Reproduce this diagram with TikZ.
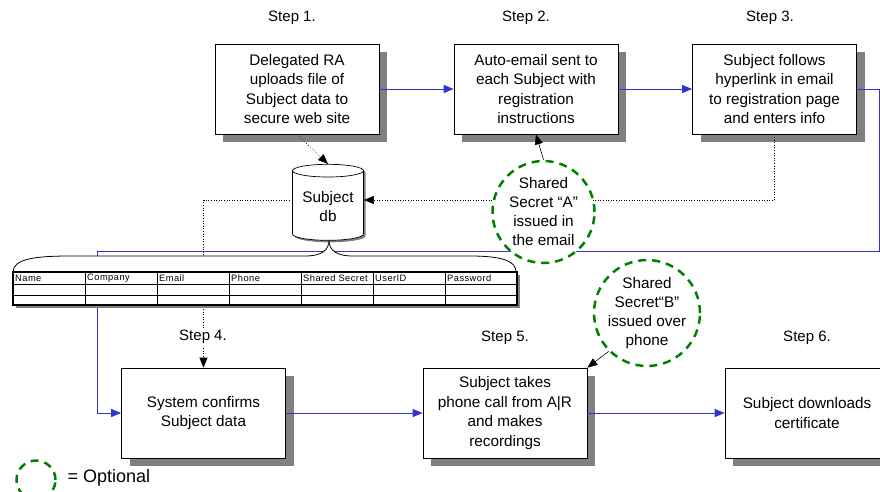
\documentclass[tikz,border=0pt]{standalone}
\usepackage{fontspec}
\setmainfont{Liberation Sans}
\usetikzlibrary{shapes.geometric,shadows,arrows.meta}

\definecolor{flowblue}{RGB}{51,51,214}
\definecolor{optgreen}{RGB}{0,128,0}
\definecolor{shadowgray}{RGB}{128,128,128}

\begin{document}
\begin{tikzpicture}[x=1pt,y=-1pt,
    procbox/.style={draw,fill=white,line width=0.7pt,minimum width=164pt,minimum height=90pt,
        align=center,font=\fontsize{15.3}{19.4}\selectfont,
        drop shadow={shadow xshift=8pt,shadow yshift=-8pt,fill=shadowgray,opacity=1}},
    steplabel/.style={font=\fontsize{15}{18}\selectfont},
    flow/.style={draw=flowblue,line width=1pt,-{Triangle[length=10pt,width=8pt]}},
    dotlink/.style={dotted,line width=0.6pt,-{Triangle[length=10pt,width=8pt]}},
    notelink/.style={line width=0.6pt,-{Triangle[length=10pt,width=8pt]}},
    secret/.style={circle,draw=optgreen,fill=white,line width=2.5pt,
        dash pattern=on 8pt off 6pt,minimum size=102pt,inner sep=0pt,
        align=center,font=\fontsize{15.3}{19}\selectfont},
    colhead/.style={anchor=west,inner sep=1pt,
        font=\fontsize{9.3}{10}\selectfont\addfontfeatures{LetterSpace=5}}
  ]
    \useasboundingbox (0,0) rectangle (880,491);
    \clip (0,0) rectangle (880,491);

    % process steps
    \node[procbox] (upload) at (297,89)
        {Delegated RA\\uploads file of\\Subject data to\\secure web site};
    \node[procbox] (email) at (536,89)
        {Auto-email sent to\\each Subject with\\registration\\instructions};
    \node[procbox] (follow) at (774.5,89)
        {Subject follows\\hyperlink in email\\to registration page\\and enters info};
    \node[procbox] (confirm) at (203.5,413) {System confirms\\Subject data};
    \node[procbox] (phone) at (505,413)
        {Subject takes\\phone call from A|R\\and makes\\recordings};
    \node[procbox] (download) at (807,413) {Subject downloads\\certificate};

    % database
    \node[cylinder,shape border rotate=90,aspect=0.22,draw,fill=white,line width=0.7pt,
        minimum height=76pt,minimum width=71pt,align=center,
        font=\fontsize{15.3}{19}\selectfont,
        drop shadow={shadow xshift=2pt,shadow yshift=-2pt,fill=shadowgray,opacity=1}]
        (db) at (328,207) {Subject\\db};
    \coordinate (dbE) at ([yshift=7pt]db.east);
    \coordinate (dbW) at ([yshift=7pt]db.west);

    \coordinate (loopE) at (879,251);
    \coordinate (loopW) at (97,251);

    % main flow
    \draw[flow] (upload) -- (email);
    \draw[flow] (email) -- (follow);
    \draw[flow] (follow.east) -| (loopE) -- (loopW) |- (confirm.west);
    \draw[flow] (confirm) -- (phone);
    \draw[flow] (phone) -- (download);

    % data links
    \draw[dotlink] (upload.south) -- (db.north);
    \draw[dotlink] (follow.south) |- (dbE);
    \draw[dotlink] (dbW) -| (confirm.north);

    % brace onto the record table
    \draw[fill=white,line width=0.8pt] (13,272)
        .. controls (13,259) and (35,256) .. (70,256) -- (305,256)
        .. controls (322,256) and (329,250) .. (329,240)
        .. controls (329,250) and (336,256) .. (353,256) -- (470,256)
        .. controls (505,256) and (516,262) .. (516,272) -- cycle;

    % record table
    \fill[shadowgray] (16,275) rectangle (520,308);
    \draw[fill=white,line width=1.2pt] (13,272) rectangle (517,305);
    \draw[line width=0.6pt] (13,284) -- (517,284) (13,295) -- (517,295);
    \foreach \i in {1,...,6}
        \draw[line width=0.8pt] ({13+72*\i},272) -- ({13+72*\i},305);
    \foreach \name [count=\i from 0] in {Name,Company,Email,Phone,Shared Secret,UserID,Password}
        \node[colhead] (col\i) at ({14+72*\i},278.5) {\name};

    % optional shared secrets
    \node[secret] (secretA) at (543.5,212) {Shared\\Secret “A”\\issued in\\the email};
    \node[secret] (secretB) at (647,313) {Shared\\Secret“B”\\issued over\\phone};
    \draw[notelink] (secretA.north) -- (email.south);
    \draw[notelink] (secretB.south west) -- (phone.north east);

    % step labels
    \node[steplabel] (lab1) at (292,18) {Step 1.};
    \node[steplabel] (lab2) at (526,18) {Step 2.};
    \node[steplabel] (lab3) at (770,18) {Step 3.};
    \node[steplabel,fill=white,inner sep=2pt] (lab4) at (203,337) {Step 4.};
    \node[steplabel] (lab5) at (505,338) {Step 5.};
    \node[steplabel] (lab6) at (807,338) {Step 6.};

    % legend
    \node[secret,minimum size=39pt] (legend) at (36,480) {};
    \node[anchor=west,font=\fontsize{18}{21}\selectfont] (legendtxt) at (64,478) {= Optional};
\end{tikzpicture}
\end{document}
